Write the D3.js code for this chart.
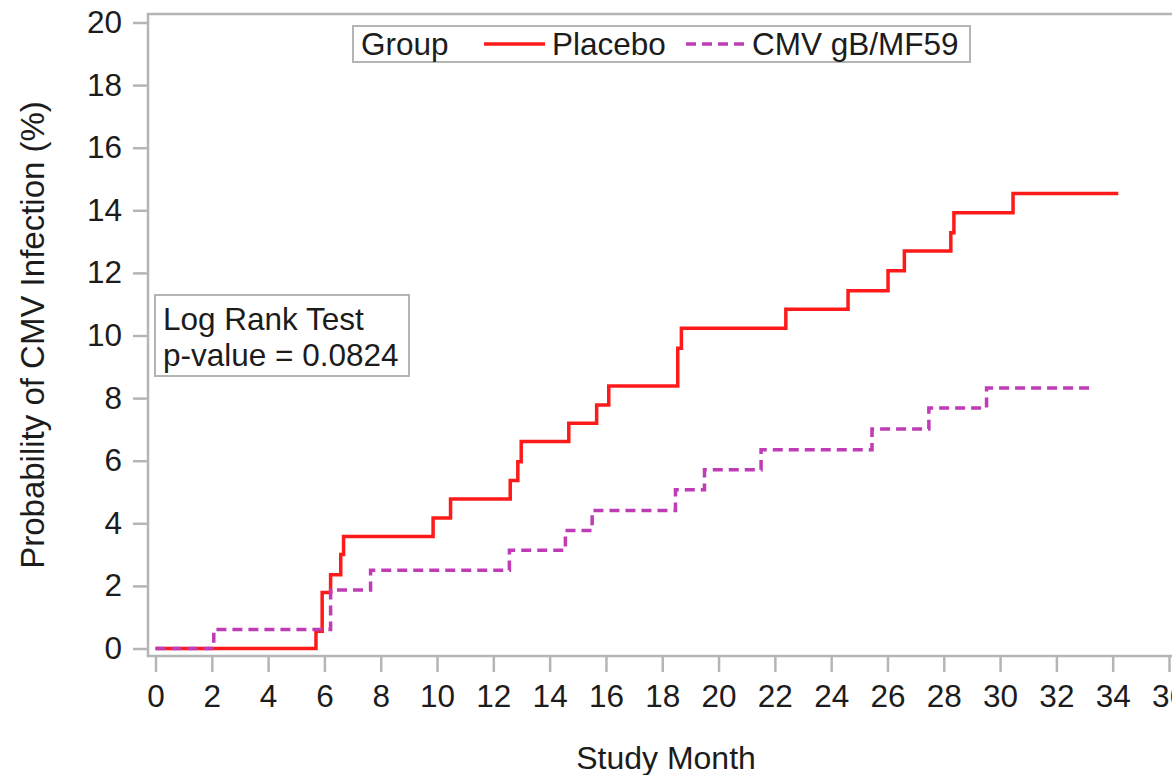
<!DOCTYPE html>
<html>
<head>
<meta charset="utf-8">
<script src="https://cdn.jsdelivr.net/npm/d3@7"></script>
<style>
  body { margin: 0; background: #fff; }
  text { font-family: "Liberation Sans", Arial, sans-serif; fill: #1c1c1c; }
</style>
</head>
<body>
<svg id="chart" width="1172" height="775"></svg>
<script>
// Kaplan-Meier style cumulative incidence, step points (month, %)
var placeboMonths = [0, 5.70, 5.92, 6.22, 6.58, 6.68, 9.86, 10.48, 12.6, 12.87, 12.99, 14.68, 15.67, 16.1, 18.55, 18.68, 22.39, 24.6, 26.02, 26.6, 28.25, 28.36, 30.46, 34.2];
var placeboValues = [0, 0.55, 1.79, 2.36, 3.0, 3.58, 4.17, 4.78, 5.37, 5.97, 6.61, 7.2, 7.78, 8.39, 9.59, 10.23, 10.84, 11.43, 12.07, 12.7, 13.28, 13.92, 14.54, 14.54];

var cmvMonths = [0, 2.07, 6.22, 7.64, 12.57, 14.56, 15.51, 18.47, 19.5, 21.51, 25.45, 27.47, 29.52, 33.18];
var cmvValues = [0, 0.61, 1.87, 2.5, 3.14, 3.77, 4.41, 5.07, 5.71, 6.35, 7.01, 7.68, 8.32, 8.32];

var xTicks = d3.range(0, 37, 2);
var yTicks = d3.range(0, 21, 2);

var legendLabels = ["Placebo", "CMV gB/MF59"];
var statLines = ["Log Rank Test", "p-value = 0.0824"];

var svg = d3.select("#chart");

var x = d3.scaleLinear().domain([0, 36]).range([155.5, 1169]);
var y = d3.scaleLinear().domain([0, 20]).range([648.5, 22.5]);

var axisColor = "#b5b5b5";
var fontSize = "31.5px";

// frame
svg.append("rect")
  .attr("x", 148).attr("y", 14)
  .attr("width", 1040).attr("height", 642)
  .attr("fill", "none")
  .attr("stroke", axisColor)
  .attr("stroke-width", 2.5);

// y axis
var yAxis = svg.append("g")
  .attr("transform", "translate(148,0)")
  .call(d3.axisLeft(y).tickValues(yTicks).tickSize(15).tickPadding(11));
yAxis.select(".domain").remove();
yAxis.selectAll("line").attr("stroke", axisColor).attr("stroke-width", 2.5);
yAxis.selectAll("text")
  .style("font-size", fontSize)
  .style("font-family", "Liberation Sans, Arial, sans-serif")
  .attr("fill", "#1c1c1c");

// x axis
var xAxis = svg.append("g")
  .attr("transform", "translate(0,656)")
  .call(d3.axisBottom(x).tickValues(xTicks).tickSize(16).tickPadding(13));
xAxis.select(".domain").remove();
xAxis.selectAll("line").attr("stroke", axisColor).attr("stroke-width", 2.5);
xAxis.selectAll("text")
  .style("font-size", fontSize)
  .style("font-family", "Liberation Sans, Arial, sans-serif")
  .attr("fill", "#1c1c1c");

// axis titles
svg.append("text")
  .attr("x", 666).attr("y", 769)
  .attr("text-anchor", "middle")
  .style("font-size", "32px")
  .text("Study Month");

svg.append("text")
  .attr("transform", "translate(44,335) rotate(-90)")
  .attr("text-anchor", "middle")
  .style("font-size", "33px")
  .text("Probability of CMV Infection (%)");

// step lines
var line = d3.line()
  .x(d => x(d[0]))
  .y(d => y(d[1]))
  .curve(d3.curveStepAfter);

svg.append("path")
  .datum(d3.zip(placeboMonths, placeboValues))
  .attr("d", line)
  .attr("fill", "none")
  .attr("stroke", "#ff1a1a")
  .attr("stroke-width", 3.5);

svg.append("path")
  .datum(d3.zip(cmvMonths, cmvValues))
  .attr("d", line)
  .attr("fill", "none")
  .attr("stroke", "#c03cb4")
  .attr("stroke-width", 3.5)
  .attr("stroke-dasharray", "10,6");

// legend
var legend = svg.append("g");
legend.append("rect")
  .attr("x", 353).attr("y", 26)
  .attr("width", 617).attr("height", 36)
  .attr("fill", "#fff")
  .attr("stroke", axisColor)
  .attr("stroke-width", 2);
legend.append("text").attr("x", 361).attr("y", 55).style("font-size", fontSize).text("Group");
legend.append("line")
  .attr("x1", 484).attr("x2", 545).attr("y1", 44).attr("y2", 44)
  .attr("stroke", "#ff1a1a").attr("stroke-width", 3.5);
legend.append("text").attr("x", 552).attr("y", 55).style("font-size", fontSize).text(legendLabels[0]);
legend.append("line")
  .attr("x1", 686).attr("x2", 744).attr("y1", 44).attr("y2", 44)
  .attr("stroke", "#c03cb4").attr("stroke-width", 3.5)
  .attr("stroke-dasharray", "10,6");
legend.append("text").attr("x", 752).attr("y", 55).style("font-size", fontSize).text(legendLabels[1]);

// log rank box
var stat = svg.append("g");
stat.append("rect")
  .attr("x", 155).attr("y", 295)
  .attr("width", 254).attr("height", 81)
  .attr("fill", "#fff")
  .attr("stroke", axisColor)
  .attr("stroke-width", 2);
stat.selectAll("text.stat")
  .data(statLines)
  .enter().append("text")
  .attr("class", "stat")
  .attr("x", 163)
  .attr("y", (d, i) => 330 + i * 36)
  .style("font-size", fontSize)
  .text(d => d);
</script>
</body>
</html>
